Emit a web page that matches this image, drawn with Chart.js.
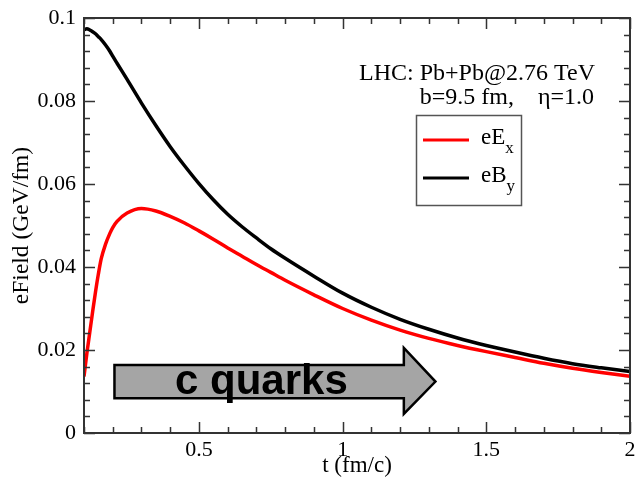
<!DOCTYPE html>
<html>
<head>
<meta charset="utf-8">
<script src="https://cdn.jsdelivr.net/npm/chart.js@4.4.1/dist/chart.umd.min.js"></script>
<style>
  html, body { margin: 0; padding: 0; background: #fff; }
</style>
</head>
<body>
<canvas id="fieldChart" width="637" height="482"></canvas>
<script>
// time in fm/c
const times = [0.1, 0.11, 0.12, 0.13, 0.14, 0.15, 0.16, 0.175, 0.19, 0.2, 0.215, 0.25, 0.3, 0.35, 0.4, 0.45,
               0.5, 0.55, 0.6, 0.65, 0.7, 0.75, 0.8, 0.9, 1.0, 1.1, 1.2, 1.3, 1.4, 1.5, 1.6, 1.7, 1.8, 1.9, 2.0];
// fields in GeV/fm
const eEx = [0.0136, 0.0192, 0.0242, 0.0292, 0.0340, 0.0383, 0.0420, 0.0455, 0.0481, 0.0495, 0.0510, 0.0530, 0.0541, 0.0535, 0.0522, 0.0506,
             0.0487, 0.0467, 0.0446, 0.0426, 0.0406, 0.0387, 0.0368, 0.0333, 0.0300, 0.0272, 0.0248, 0.0228, 0.0211, 0.0196, 0.0182, 0.0168, 0.0156, 0.0146, 0.0137];
const eBy = [0.0972, 0.0974, 0.0971, 0.0967, 0.0962, 0.0955, 0.0948, 0.0935, 0.0920, 0.0908, 0.0891, 0.0852, 0.0795, 0.0741, 0.0690, 0.0644,
             0.0601, 0.0562, 0.0527, 0.0497, 0.0470, 0.0444, 0.0421, 0.0378, 0.0337, 0.0303, 0.0274, 0.0250, 0.0229, 0.0211, 0.0195, 0.0180, 0.0167, 0.0157, 0.0148];

const xTicks = [0.5, 1, 1.5, 2];
const yTicks = [0, 0.02, 0.04, 0.06, 0.08, 0.1];
const seriesNames = [['eE', 'x'], ['eB', 'y']];
const infoLines = ['LHC: Pb+Pb@2.76 TeV', 'b=9.5 fm,    \u03b7=1.0'];
const arrowText = 'c quarks';

const SERIF = '"Liberation Serif", "DejaVu Serif", serif';

function toPoints(xs, ys) {
    return xs.map((x, i) => ({ x: x, y: ys[i] }));
}

// frame, inward ticks on all four sides, text block, legend and the arrow
const decorations = {
    id: 'decorations',
    afterDatasetsDraw(chart) {
        const ctx = chart.ctx;
        const a = chart.chartArea;
        const xs = chart.scales.x;
        const ys = chart.scales.y;
        ctx.save();

        // arrow
        const x0 = xs.getPixelForValue(0.206);
        const x1 = xs.getPixelForValue(1.213);
        const x2 = xs.getPixelForValue(1.323);
        const bt = ys.getPixelForValue(0.0164);
        const bb = ys.getPixelForValue(0.0084);
        const ht = ys.getPixelForValue(0.0205);
        const hb = ys.getPixelForValue(0.0046);
        const mid = (bt + bb) / 2;
        ctx.beginPath();
        ctx.moveTo(x0, bt);
        ctx.lineTo(x1, bt);
        ctx.lineTo(x1, ht);
        ctx.lineTo(x2, mid);
        ctx.lineTo(x1, hb);
        ctx.lineTo(x1, bb);
        ctx.lineTo(x0, bb);
        ctx.closePath();
        ctx.fillStyle = '#a5a5a5';
        ctx.fill();
        ctx.lineWidth = 2.5;
        ctx.strokeStyle = '#000';
        ctx.lineJoin = 'miter';
        ctx.stroke();
        ctx.fillStyle = '#000';
        ctx.font = 'bold 42px "Liberation Sans", Arial, sans-serif';
        ctx.textAlign = 'left';
        ctx.textBaseline = 'alphabetic';
        ctx.fillText(arrowText, 175, 394);

        // frame
        ctx.lineWidth = 2;
        ctx.strokeStyle = '#333';
        ctx.strokeRect(a.left, a.top, a.right - a.left, a.bottom - a.top);

        // x ticks every 0.1, major every 0.5
        ctx.lineWidth = 1.5;
        ctx.beginPath();
        for (let i = 1; i <= 20; i++) {
            const t = i / 10;
            const px = Math.round(xs.getPixelForValue(t)) + 0.5;
            const len = (i % 5 === 0) ? 11 : 6;
            ctx.moveTo(px, a.bottom);
            ctx.lineTo(px, a.bottom - len);
            ctx.moveTo(px, a.top);
            ctx.lineTo(px, a.top + len);
        }
        // y ticks every 0.004, major every 0.02
        for (let j = 0; j <= 25; j++) {
            const v = j * 0.004;
            const py = Math.round(ys.getPixelForValue(v)) + 0.5;
            const len = (j % 5 === 0) ? 11 : 6;
            ctx.moveTo(a.left, py);
            ctx.lineTo(a.left + len, py);
            ctx.moveTo(a.right, py);
            ctx.lineTo(a.right - len, py);
        }
        ctx.stroke();

        // collision info
        ctx.fillStyle = '#000';
        ctx.font = '24px ' + SERIF;
        ctx.textAlign = 'right';
        ctx.fillText(infoLines[0], 595, 80);
        ctx.fillText(infoLines[1], 594, 104);

        // legend box
        ctx.strokeStyle = '#555';
        ctx.lineWidth = 1.5;
        ctx.strokeRect(416.5, 115.5, 105, 90);
        chart.data.datasets.forEach((ds, i) => {
            const y = 140 + i * 38;
            ctx.strokeStyle = ds.borderColor;
            ctx.lineWidth = 3;
            ctx.beginPath();
            ctx.moveTo(423, y);
            ctx.lineTo(469, y);
            ctx.stroke();
            ctx.fillStyle = '#000';
            ctx.textAlign = 'left';
            ctx.font = '23px ' + SERIF;
            ctx.fillText(seriesNames[i][0], 481, y + 4);
            const w = ctx.measureText(seriesNames[i][0]).width;
            ctx.font = '17px ' + SERIF;
            ctx.fillText(seriesNames[i][1], 481 + w, y + 13);
        });

        ctx.restore();
    }
};

new Chart(document.getElementById('fieldChart'), {
    type: 'line',
    data: {
        datasets: [{
            label: 'eEx',
            data: toPoints(times, eEx),
            borderColor: '#ff0000',
            borderWidth: 3.5,
            pointRadius: 0,
            cubicInterpolationMode: 'monotone',
            fill: false
        }, {
            label: 'eBy',
            data: toPoints(times, eBy),
            borderColor: '#000000',
            borderWidth: 3.5,
            pointRadius: 0,
            cubicInterpolationMode: 'monotone',
            fill: false
        }]
    },
    options: {
        responsive: false,
        animation: false,
        layout: { padding: { top: 18, right: 7, left: 0, bottom: 0 } },
        plugins: {
            legend: { display: false },
            tooltip: { enabled: false }
        },
        scales: {
            x: {
                type: 'linear',
                min: 0.1,
                max: 2,
                afterBuildTicks: (scale) => { scale.ticks = xTicks.map(v => ({ value: v })); },
                afterFit: (scale) => {
                    scale.height = 49;
                    scale.paddingLeft = 0;
                    scale.paddingRight = 0;
                },
                grid: { display: false, drawTicks: false },
                border: { display: false },
                ticks: {
                    color: '#000',
                    padding: 4,
                    maxRotation: 0,
                    font: { family: SERIF, size: 22 },
                    callback: (v) => String(v)
                },
                title: {
                    display: true,
                    text: 't (fm/c)',
                    color: '#000',
                    padding: { top: 0, bottom: 2 },
                    font: { family: SERIF, size: 23 }
                }
            },
            y: {
                type: 'linear',
                min: 0,
                max: 0.1,
                afterBuildTicks: (scale) => { scale.ticks = yTicks.map(v => ({ value: v })); },
                afterFit: (scale) => {
                    scale.width = 84;
                    scale.paddingTop = 0;
                    scale.paddingBottom = 0;
                },
                grid: { display: false, drawTicks: false },
                border: { display: false },
                ticks: {
                    color: '#000',
                    padding: 8,
                    font: { family: SERIF, size: 22 },
                    callback: (v) => String(Math.round(v * 100) / 100)
                },
                title: {
                    display: true,
                    text: 'eField (GeV/fm)',
                    color: '#000',
                    padding: { top: 8, bottom: 0 },
                    font: { family: SERIF, size: 23.5 }
                }
            }
        }
    },
    plugins: [decorations]
});
</script>
</body>
</html>
